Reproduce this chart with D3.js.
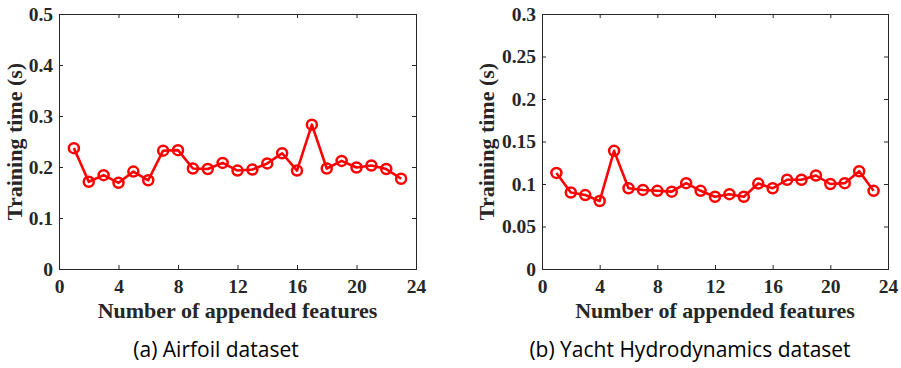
<!DOCTYPE html>
<html>
<head>
<meta charset="utf-8">
<script src="https://cdn.jsdelivr.net/npm/d3@7"></script>
<style>
  body { margin: 0; background: #fff; }
</style>
</head>
<body>
<svg id="chart" width="901" height="368"></svg>
<script>
// number of appended features (x) shared by both panels
const features = d3.range(1, 24);

// training time (s)
const airfoilTime = [0.237, 0.171, 0.184, 0.169, 0.191, 0.174, 0.232, 0.233, 0.197, 0.196,
  0.208, 0.193, 0.195, 0.207, 0.227, 0.193, 0.283, 0.197, 0.212, 0.199, 0.203, 0.196, 0.177];
const yachtTime = [0.113, 0.090, 0.087, 0.080, 0.139, 0.095, 0.093, 0.092, 0.091, 0.101,
  0.092, 0.085, 0.088, 0.085, 0.1005, 0.095, 0.105, 0.105, 0.110, 0.100, 0.101, 0.115, 0.092];

const xTicks = [0, 4, 8, 12, 16, 20, 24];
const airfoilTicks = [0, 0.1, 0.2, 0.3, 0.4, 0.5];
const yachtTicks = [0, 0.05, 0.1, 0.15, 0.2, 0.25, 0.3];

const svg = d3.select("#chart");
const axisColor = "#262626";
const serif = "'Liberation Serif', 'Times New Roman', serif";

function panel(opts) {
  const g = svg.append("g");
  const x = d3.scaleLinear().domain([0, 24]).range([opts.left, opts.right]);
  const y = d3.scaleLinear().domain([0, opts.yMax]).range([opts.bottom, opts.top]);

  //axes, ticks pointing inward, box on
  const bottomAxis = d3.axisBottom(x).tickValues(xTicks).tickSize(-4).tickPadding(10).tickFormat(d3.format("d"));
  const topAxis = d3.axisTop(x).tickValues(xTicks).tickSize(-4).tickFormat("");
  const leftAxis = d3.axisLeft(y).tickValues(opts.yTicks).tickSize(-4).tickPadding(6).tickFormat(d => String(d));
  const rightAxis = d3.axisRight(y).tickValues(opts.yTicks).tickSize(-4).tickFormat("");

  const axes = [
    [bottomAxis, `translate(0,${opts.bottom})`],
    [topAxis, `translate(0,${opts.top})`],
    [leftAxis, `translate(${opts.left},0)`],
    [rightAxis, `translate(${opts.right},0)`]
  ];
  axes.forEach(([ax, tr]) => {
    const a = g.append("g")
      .attr("transform", tr)
      .call(ax)
      .attr("font-family", serif)
      .attr("font-size", 19.5)
      .attr("font-weight", "bold");
    a.select(".domain").attr("stroke", axisColor).attr("stroke-width", 1);
    a.selectAll(".tick line").attr("stroke", axisColor);
    a.selectAll("text").attr("fill", axisColor);
  });

  //line + open circle markers
  const pts = features.map((f, i) => [f, opts.values[i]]);
  const line = d3.line().x(d => x(d[0])).y(d => y(d[1]));
  g.append("path")
    .datum(pts)
    .attr("d", line)
    .attr("fill", "none")
    .attr("stroke", "#ff0000")
    .attr("stroke-width", 2.6)
    .attr("stroke-linejoin", "round");

  g.selectAll("circle.marker")
    .data(pts)
    .enter()
    .append("circle")
      .attr("class", "marker")
      .attr("cx", d => x(d[0]))
      .attr("cy", d => y(d[1]))
      .attr("r", 5)
      .attr("fill", "none")
      .attr("stroke", "#ff0000")
      .attr("stroke-width", 2.5);

  //axis titles
  g.append("text")
    .attr("x", (opts.left + opts.right) / 2)
    .attr("y", 318)
    .attr("text-anchor", "middle")
    .attr("fill", axisColor)
    .style("font-family", serif)
    .style("font-weight", "bold")
    .style("font-size", "22px")
    .text("Number of appended features");

  g.append("text")
    .attr("transform", `translate(${opts.yLabelX},${(opts.top + opts.bottom) / 2}) rotate(-90)`)
    .attr("text-anchor", "middle")
    .attr("fill", axisColor)
    .style("font-family", serif)
    .style("font-weight", "bold")
    .style("font-size", "22px")
    .text("Training time (s)");

  //caption
  g.append("text")
    .attr("x", opts.captionX)
    .attr("y", 357)
    .attr("text-anchor", "middle")
    .attr("fill", "#000")
    .style("font-family", "'Open Sans', 'Noto Sans', sans-serif")
    .style("font-size", "21px")
    .text(opts.caption);
}

panel({
  left: 59, right: 416, top: 14, bottom: 269,
  yMax: 0.5, yTicks: airfoilTicks, values: airfoilTime,
  yLabelX: 22, captionX: 216, caption: "(a) Airfoil dataset"
});

panel({
  left: 542, right: 888, top: 14, bottom: 269,
  yMax: 0.3, yTicks: yachtTicks, values: yachtTime,
  yLabelX: 494, captionX: 690, caption: "(b) Yacht Hydrodynamics dataset"
});
</script>
</body>
</html>
